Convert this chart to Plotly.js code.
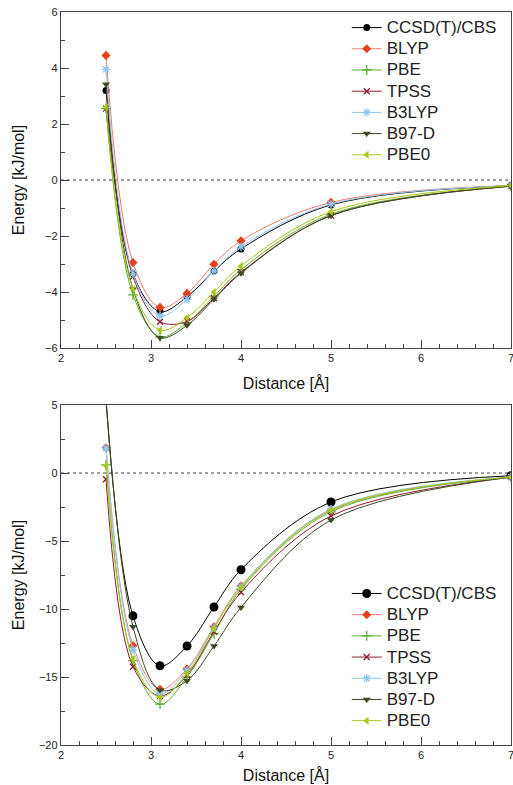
<!DOCTYPE html>
<html><head><meta charset="utf-8">
<script src="https://cdn.plot.ly/plotly-3.0.1.min.js"></script>
<style>html,body{margin:0;padding:0;background:#fff}#chart{width:513px;height:785px}</style>
</head><body><div id="chart"></div>
<script>
const distance = [2.5, 2.8, 3.1, 3.4, 3.7, 4.0, 5.0, 7.0];
const names = ["CCSD(T)/CBS", "BLYP", "PBE", "TPSS", "B3LYP", "B97-D", "PBE0"];

// top panel
const ccsdTop  = [3.2, -3.35, -4.70, -4.17, -3.25, -2.46, -0.89, -0.20];
const blypTop  = [4.45, -2.95, -4.55, -4.05, -3.01, -2.17, -0.80, -0.20];
const pbeTop   = [2.55, -4.10, -5.60, -5.10, -4.15, -3.20, -1.22, -0.22];
const tpssTop  = [2.55, -3.45, -5.06, -5.05, -4.22, -3.30, -1.27, -0.22];
const b3lypTop = [3.95, -3.35, -4.85, -4.26, -3.25, -2.39, -0.86, -0.20];
const b97dTop  = [3.42, -3.90, -5.63, -5.19, -4.26, -3.33, -1.27, -0.22];
const pbe0Top  = [2.60, -3.90, -5.36, -4.92, -4.00, -3.07, -1.13, -0.20];

// bottom panel
const ccsdBot  = [5.5, -10.50, -14.17, -12.72, -9.85, -7.11, -2.13, -0.20];
const blypBot  = [1.85, -12.70, -15.90, -14.40, -11.30, -8.30, -2.75, -0.30];
const pbeBot   = [0.60, -13.80, -17.00, -15.00, -11.80, -8.55, -2.85, -0.30];
const tpssBot  = [-0.46, -14.24, -16.40, -14.85, -11.67, -8.77, -3.16, -0.30];
const b3lypBot = [1.82, -13.00, -16.25, -14.50, -11.38, -8.35, -2.65, -0.30];
const b97dBot  = [5.30, -11.30, -15.96, -15.27, -12.72, -9.88, -3.46, -0.30];
const pbe0Bot  = [0.54, -13.70, -16.50, -14.73, -11.42, -8.43, -2.72, -0.30];

const styles = [
  {line:"#000000", mk:"#000000", sym:"circle", size:7},
  {line:"#f07a6a", mk:"#e8401c", sym:"diamond", size:7},
  {line:"#5cb030", mk:"#5cb030", sym:"cross-thin", size:7, thin:true},
  {line:"#8b1e30", mk:"#8b1e30", sym:"x-thin", size:6, thin:true},
  {line:"#8cc8f0", mk:"#8cc8f0", sym:"asterisk", size:7, thin:true},
  {line:"#3d4a22", mk:"#3d4a22", sym:"triangle-down", size:7},
  {line:"#a8c814", mk:"#a8c814", sym:"triangle-left", size:7}
];

const topSets = [ccsdTop, blypTop, pbeTop, tpssTop, b3lypTop, b97dTop, pbe0Top];
const botSets = [ccsdBot, blypBot, pbeBot, tpssBot, b3lypBot, b97dBot, pbe0Bot];

function mk(ys, i, xa, ya, leg, big) {
  const s = styles[i];
  return {
    x: distance, y: ys, name: '<span style="font-size:17px">' + names[i] + '</span>',
    xaxis: xa, yaxis: ya, legend: leg,
    type: "scatter", mode: "lines+markers",
    line: {color: s.line, width: 1, shape: "spline", smoothing: 1},
    marker: {symbol: s.sym, size: s.size + (big && i === 0 ? 2 : 0), color: s.mk,
             line: {color: s.mk, width: s.thin ? 1.3 : 0}}
  };
}
const data = [];
topSets.forEach((ys, i) => data.push(mk(ys, i, "x", "y", "legend", false)));
botSets.forEach((ys, i) => data.push(mk(ys, i, "x2", "y2", "legend2", true)));

const fam = "Liberation Sans, Arial, sans-serif";
const axBase = {
  showgrid: false, zeroline: false, showline: true, linecolor: "#444", linewidth: 1.2,
  mirror: true, ticks: "inside", ticklen: 8, tickcolor: "#444", ticklabeloverflow: "allow",
  tickfont: {family: fam, size: 11, color: "#222"}
};
const xax = (anchor, so) => Object.assign({}, axBase, {
  range: [2, 7], dtick: 1, tick0: 2, anchor: anchor,
  minor: {dtick: 0.2, ticklen: 4, ticks: "inside", tickcolor: "#444"},
  title: {text: "Distance [Å]", font: {family: fam, size: 16, color: "#111"}, standoff: so}
});
const layout = {
  width: 513, height: 785, paper_bgcolor: "#fff", plot_bgcolor: "#fff",
  margin: {l: 61, r: 2, t: 12, b: 40},
  showlegend: true,
  font: {family: fam},
  xaxis: xax("y", 14),
  yaxis: Object.assign({}, axBase, {
    domain: [0.5416, 1], range: [-6, 6], dtick: 2, anchor: "x",
    minor: {dtick: 1, ticklen: 4, ticks: "inside", tickcolor: "#444"},
    title: {text: "Energy [kJ/mol]", font: {family: fam, size: 16, color: "#111"}, standoff: 16}
  }),
  xaxis2: xax("y2", 9),
  yaxis2: Object.assign({}, axBase, {
    domain: [0, 0.4638], range: [-20, 5], dtick: 5, anchor: "x2",
    minor: {dtick: 2.5, ticklen: 4, ticks: "inside", tickcolor: "#444"},
    title: {text: "Energy [kJ/mol]", font: {family: fam, size: 16, color: "#111"}, standoff: 10}
  }),
  legend: {x: 0.635, y: 1.0, xanchor: "left", yanchor: "top", bgcolor: "rgba(0,0,0,0)",
           font: {family: fam, size: 14, color: "#222"}, tracegroupgap: 0},
  legend2: {x: 0.635, y: 0.228, xanchor: "left", yanchor: "top", bgcolor: "rgba(0,0,0,0)",
           font: {family: fam, size: 14, color: "#222"}, tracegroupgap: 0},
  shapes: [
    {type: "line", xref: "x domain", yref: "y", x0: 0, x1: 1, y0: 0, y1: 0,
     line: {color: "#444", width: 1, dash: "dot"}, layer: "below"},
    {type: "line", xref: "x2 domain", yref: "y2", x0: 0, x1: 1, y0: 0, y1: 0,
     line: {color: "#444", width: 1, dash: "dot"}, layer: "below"}
  ]
};
Plotly.newPlot("chart", data, layout, {displayModeBar: false, staticPlot: true});
</script></body></html>
